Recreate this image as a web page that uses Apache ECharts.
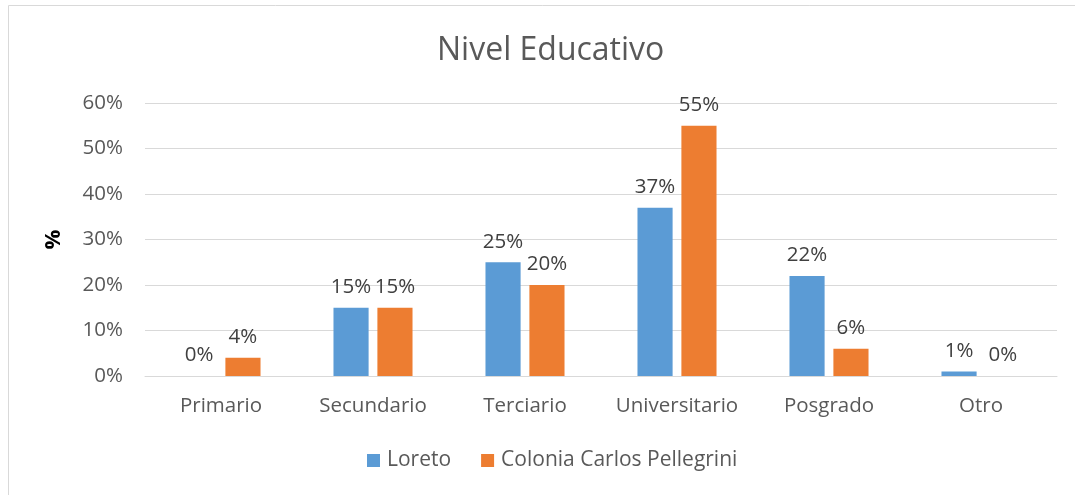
<!DOCTYPE html>
<html>
<head>
<meta charset="utf-8">
<script src="https://cdn.jsdelivr.net/npm/echarts@6/dist/echarts.min.js"></script>
<style>
html, body { margin: 0; padding: 0; background: #fff; }
#chart { width: 1075px; height: 495px; }
</style>
</head>
<body>
<div id="chart"></div>
<script>
var categories = ['Primario', 'Secundario', 'Terciario', 'Universitario', 'Posgrado', 'Otro'];
var loreto = [0, 15, 25, 37, 22, 1];
var colonia = [4, 15, 20, 55, 6, 0];
var yTicks = [0, 10, 20, 30, 40, 50, 60];

var myChart = echarts.init(document.getElementById('chart'));
var font = '"Open Sans", "Noto Sans", sans-serif';
var labelStyle = {
  show: true,
  position: 'top',
  distance: 10,
  formatter: '{c}%',
  color: '#404040',
  fontSize: 20.5,
  fontFamily: font
};
var option = {
  animation: false,
  textStyle: { fontFamily: font },
  graphic: [{
    type: 'rect',
    shape: { x: 8.5, y: 5.5, width: 1100, height: 520 },
    style: { fill: 'none', stroke: '#d9d9d9', lineWidth: 1 },
    silent: true
  }],
  title: {
    text: 'Nivel Educativo',
    left: 432,
    top: 30,
    textStyle: { color: '#595959', fontSize: 32, fontWeight: 'normal', fontFamily: font }
  },
  legend: {
    bottom: 19,
    left: 362,
    itemWidth: 13,
    itemHeight: 13,
    itemGap: 30,
    icon: 'rect',
    textStyle: { color: '#595959', fontSize: 21, fontFamily: font, padding: [0, 0, 0, 2] },
    data: ['Loreto', 'Colonia Carlos Pellegrini']
  },
  grid: { left: 145, right: 18, top: 103, bottom: 119 },
  xAxis: {
    type: 'category',
    data: categories,
    axisTick: { show: false },
    axisLine: { lineStyle: { color: '#d9d9d9', width: 1 } },
    axisLabel: { interval: 0, color: '#595959', fontSize: 20.5, margin: 20, fontFamily: font }
  },
  yAxis: {
    type: 'value',
    min: yTicks[0],
    max: yTicks[yTicks.length - 1],
    interval: 10,
    name: '%',
    nameLocation: 'middle',
    nameGap: 80,
    nameTextStyle: { color: '#000', fontSize: 22, fontWeight: 'bold', fontFamily: font },
    axisLine: { show: false },
    axisTick: { show: false },
    axisLabel: { color: '#595959', fontSize: 20.5, margin: 22, formatter: '{value}%', fontFamily: font },
    splitLine: { lineStyle: { color: '#d9d9d9', width: 1 } }
  },
  series: [
    {
      name: 'Loreto',
      type: 'bar',
      data: loreto,
      barGap: '25%',
      barCategoryGap: '48%',
      itemStyle: { color: '#5b9bd5' },
      label: labelStyle
    },
    {
      name: 'Colonia Carlos Pellegrini',
      type: 'bar',
      data: colonia,
      itemStyle: { color: '#ed7d31' },
      label: labelStyle
    }
  ]
};
myChart.setOption(option);
window.onresize = function () {
  myChart.resize();
};
</script>
</body>
</html>
